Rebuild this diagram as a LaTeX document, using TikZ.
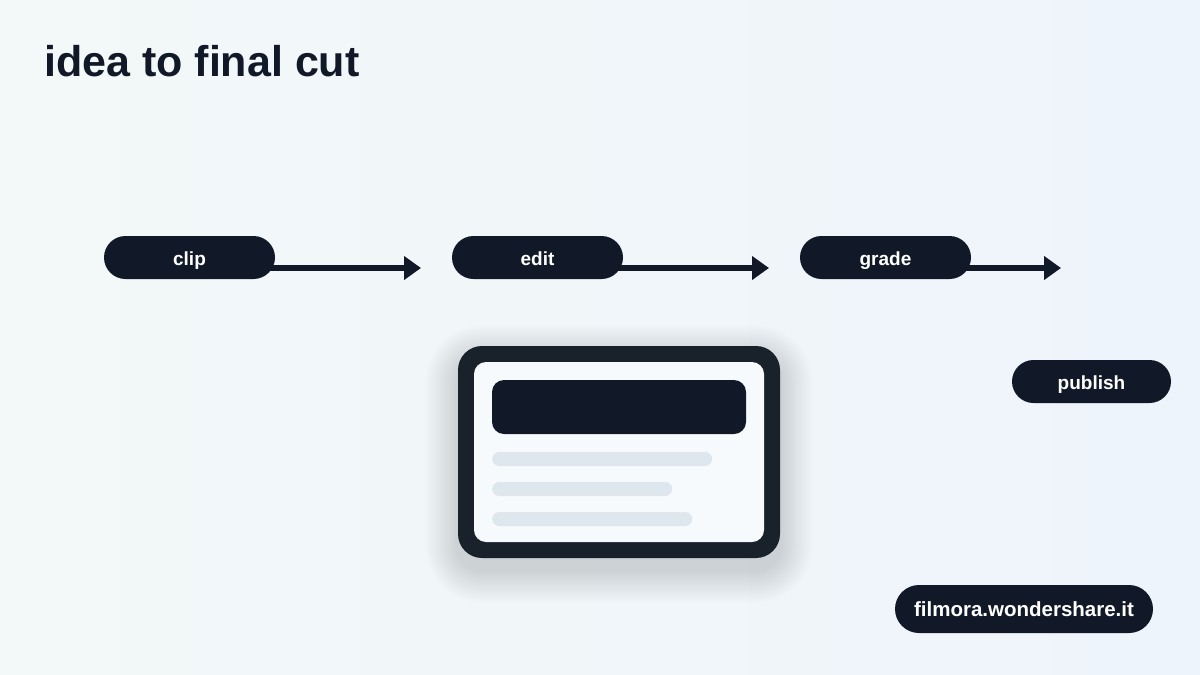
\documentclass[tikz,border=0pt]{standalone}
\usepackage{fontspec}
\setmainfont{Liberation Sans}
\usetikzlibrary{arrows.meta,backgrounds}
\definecolor{ink}{HTML}{111827}
\definecolor{frame}{HTML}{19212B}
\definecolor{paper}{HTML}{F7FAFD}
\definecolor{bar}{HTML}{DEE6EE}
\definecolor{bgl}{HTML}{F3F8F8}
\definecolor{bgr}{HTML}{EEF4FB}
\definecolor{shadowc}{HTML}{5A6B80}
\tikzset{
  pill/.style={fill=ink, text=white, rounded corners=21.5pt, minimum height=43pt,
    inner sep=0pt, text height=19pt, text depth=4pt, font=\fontsize{19}{24}\selectfont\bfseries},
  flow/.style={draw=ink, line width=6pt, -{Triangle[length=17pt,width=23pt]}},
  skel/.style={fill=bar, rounded corners=7pt, inner sep=0pt, minimum height=14pt},
}
\begin{document}
\begin{tikzpicture}[x=1pt,y=-1pt]
\begin{pgfonlayer}{background}
\shade[left color=bgl, right color=bgr] (0,0) rectangle (1200,675);
\end{pgfonlayer}
\useasboundingbox (0,0) rectangle (1200,675);
\node[anchor=base west, text=ink, font=\fontsize{43}{50}\selectfont\bfseries, inner sep=0pt] (title) at (44,76) {idea to final cut};

\node[pill, minimum width=171pt] (clip) at (189.5,257.5) {clip};
\node[pill, minimum width=171pt] (edit) at (537.5,257.5) {edit};
\node[pill, minimum width=171pt] (grade) at (885.5,257.5) {grade};
\node[pill, minimum width=159pt] (publish) at (1091.5,381.5) {publish};
\node[pill, minimum width=258pt, minimum height=48pt, rounded corners=24pt, font=\fontsize{20.5}{24}\selectfont\bfseries] (site) at (1024,609) {filmora.wondershare.it};

\coordinate (t1) at (421,268);
\coordinate (t2) at (769,268);
\coordinate (t3) at (1061,268);
\begin{pgfonlayer}{background}
\draw[flow] (clip.east |- t1) ++(-8,0) -- (t1);
\draw[flow] (edit.east |- t2) ++(-8,0) -- (t2);
\draw[flow] (grade.east |- t3) ++(-8,0) -- (t3);
\foreach \i in {1,...,18}
  \fill[shadowc, opacity=0.011, rounded corners={24pt+1.8pt*\i}]
    (458-1.8*\i,358-1.8*\i) rectangle (780+1.8*\i,570+1.8*\i);
\end{pgfonlayer}

\node[fill=frame, rounded corners=24pt, minimum width=322pt, minimum height=212pt, inner sep=0pt] (card) at (619,452) {};
\node[fill=paper, rounded corners=12pt, minimum width=290pt, minimum height=180pt, inner sep=0pt] (inner) at (619,452) {};
\node[fill=ink, rounded corners=12pt, minimum width=254pt, minimum height=54pt, inner sep=0pt] (head) at (619,407) {};
\node[skel, minimum width=220pt, anchor=west] (l1) at (492,459) {};
\node[skel, minimum width=180pt, anchor=west] (l2) at (492,489) {};
\node[skel, minimum width=200pt, anchor=west] (l3) at (492,519) {};
\end{tikzpicture}
\end{document}
